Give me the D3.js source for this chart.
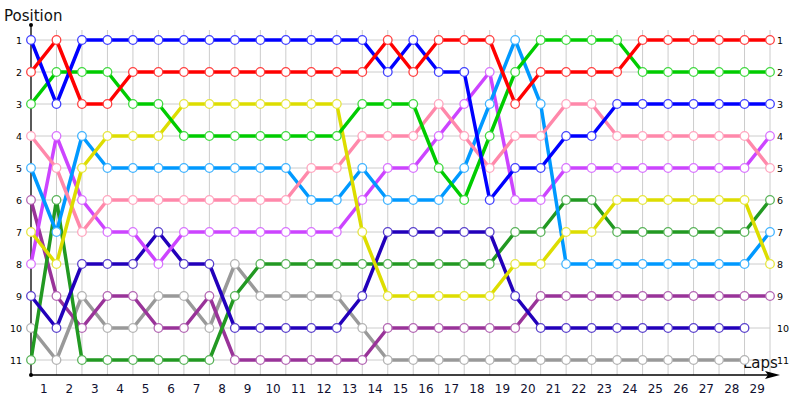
<!DOCTYPE html>
<html lang="en">
<head>
  <meta charset="UTF-8">
  <script src="https://d3js.org/d3.v7.min.js"></script>
  <title>Lap chart</title>
  <style>
    body { margin: 0; background: #fff; }
    .title { font-family: 'DejaVu Sans', sans-serif; font-size: 15px; fill: #111; }
    .posLabel { font-family: 'DejaVu Sans', sans-serif; font-size: 9.5px; fill: #000; }
    .lapLabel { font-family: 'DejaVu Sans', sans-serif; font-size: 12px; fill: #101030; }
  </style>
</head>
<body>
<div id="chart"></div>
<script>
  // lap 0 = grid start, then laps 1..29
  let laps = [0,1,2,3,4,5,6,7,8,9,10,11,12,13,14,15,16,17,18,19,20,21,22,23,24,25,26,27,28,29];
  let lapLabels = [1,2,3,4,5,6,7,8,9,10,11,12,13,14,15,16,17,18,19,20,21,22,23,24,25,26,27,28,29];
  let positions = [1,2,3,4,5,6,7,8,9,10,11];

  // position of each driver at each lap (null = did not complete the lap)
  let red       = [2,1,3,3,2,2,2,2,2,2,2,2,2,2,1,2,1,1,1,3,2,2,2,2,1,1,1,1,1,1];
  let blue      = [1,3,1,1,1,1,1,1,1,1,1,1,1,1,2,1,2,2,6,5,5,4,4,3,3,3,3,3,3,3];
  let green     = [3,2,2,2,3,3,4,4,4,4,4,4,4,3,3,3,5,6,4,2,1,1,1,1,2,2,2,2,2,2];
  let yellow    = [7,8,5,4,4,4,3,3,3,3,3,3,3,7,9,9,9,9,9,8,8,7,7,6,6,6,6,6,6,8];
  let pink      = [4,5,7,6,6,6,6,6,6,6,6,5,5,4,4,4,3,4,5,4,4,3,3,4,4,4,4,4,4,5];
  let lightBlue = [5,7,4,5,5,5,5,5,5,5,5,6,6,5,6,6,6,5,3,1,3,8,8,8,8,8,8,8,8,7];
  let violet    = [8,4,6,7,7,8,7,7,7,7,7,7,7,6,5,5,4,3,2,6,6,5,5,5,5,5,5,5,5,4];
  let darkBlue  = [9,10,8,8,8,7,8,8,10,10,10,10,10,9,7,7,7,7,7,9,10,10,10,10,10,10,10,10,10,null];
  let darkGreen = [11,6,11,11,11,11,11,11,9,8,8,8,8,8,8,8,8,8,8,7,7,6,6,7,7,7,7,7,7,6];
  let darkPurple= [6,9,10,9,9,10,10,9,11,11,11,11,11,11,10,10,10,10,10,10,9,9,9,9,9,9,9,9,9,9];
  let gray      = [10,11,9,10,10,9,9,10,8,9,9,9,9,10,11,11,11,11,11,11,11,11,11,11,11,11,11,11,11,null];

  let series = [gray, darkPurple, darkGreen, darkBlue, violet, lightBlue, pink, yellow, green, blue, red];
  let colors = ['#999999','#993399','#229922','#2200bb','#cc44ff','#0099ff','#ff88aa','#dddd00','#00cc00','#0000ff','#ff0000'];

  let width = 800, height = 400;
  let x0 = 31, x1 = 770, yTop = 40, yBottom = 360, axisY = 375;

  let svg = d3.select("#chart").append("svg")
          .attr("width", width)
          .attr("height", height);

  let lapScale = d3.scaleLinear().domain([0, 29]).range([x0, x1]);
  let posScale = d3.scaleLinear().domain([1, 11]).range([yTop, yBottom]);

  //grid
  svg.append("g").selectAll("line")
          .data(laps.slice(1))
          .join("line")
          .attr("x1", d => lapScale(d)).attr("x2", d => lapScale(d))
          .attr("y1", 30).attr("y2", axisY)
          .style("stroke", "#cccccc").style("stroke-width", 1);
  svg.append("g").selectAll("line")
          .data(positions)
          .join("line")
          .attr("x1", x0).attr("x2", x1)
          .attr("y1", d => posScale(d)).attr("y2", d => posScale(d))
          .style("stroke", "#cccccc").style("stroke-width", 1);

  //axes
  svg.append("line").attr("x1", x0).attr("x2", x0).attr("y1", 25).attr("y2", axisY)
          .style("stroke", "#000").style("stroke-width", 1.3);
  svg.append("line").attr("x1", x0).attr("x2", 772).attr("y1", axisY).attr("y2", axisY)
          .style("stroke", "#000").style("stroke-width", 1.3);
  svg.append("circle").attr("cx", x0).attr("cy", 25).attr("r", 2).style("fill", "#000");
  svg.append("circle").attr("cx", x0).attr("cy", axisY).attr("r", 2).style("fill", "#000");
  svg.append("path").attr("d", "M765,371 L780,375 L765,379 L768,375 Z").style("fill", "#000");

  svg.append("text").attr("class", "title").attr("x", 4).attr("y", 21).text("Position");
  svg.append("text").attr("class", "title").attr("x", 743).attr("y", 368).text("Laps");

  //position labels
  svg.append("g").selectAll("text")
          .data(positions)
          .join("text")
          .attr("class", "posLabel")
          .attr("x", 22).attr("y", d => posScale(d) + 3.5)
          .attr("text-anchor", "end")
          .text(d => d);
  svg.append("g").selectAll("text")
          .data(positions)
          .join("text")
          .attr("class", "posLabel")
          .attr("x", 777).attr("y", d => posScale(d) + 3.5)
          .text(d => d);

  //lap labels, centred in each lap
  svg.append("g").selectAll("text")
          .data(lapLabels)
          .join("text")
          .attr("class", "lapLabel")
          .attr("x", d => (lapScale(d - 1) + lapScale(d)) / 2)
          .attr("y", 393)
          .attr("text-anchor", "middle")
          .text(d => d);

  let line = d3.line()
          .defined(d => d != null)
          .x((d, i) => lapScale(laps[i]))
          .y(d => posScale(d));

  series.forEach((s, k) => {
    let g = svg.append("g");
    g.append("path")
            .attr("d", line(s))
            .style("fill", "none")
            .style("stroke", colors[k])
            .style("stroke-width", 3.5)
            .style("stroke-linejoin", "round");
    g.selectAll("circle")
            .data(s.map((p, i) => ({lap: laps[i], pos: p})).filter(d => d.pos != null))
            .join("circle")
            .attr("cx", d => lapScale(d.lap))
            .attr("cy", d => posScale(d.pos))
            .attr("r", 4.3)
            .style("fill", "#fff")
            .style("stroke", d3.interpolateRgb(colors[k], "#ffffff")(0.25))
            .style("stroke-width", 1.3);
  });
</script>
</body>
</html>
